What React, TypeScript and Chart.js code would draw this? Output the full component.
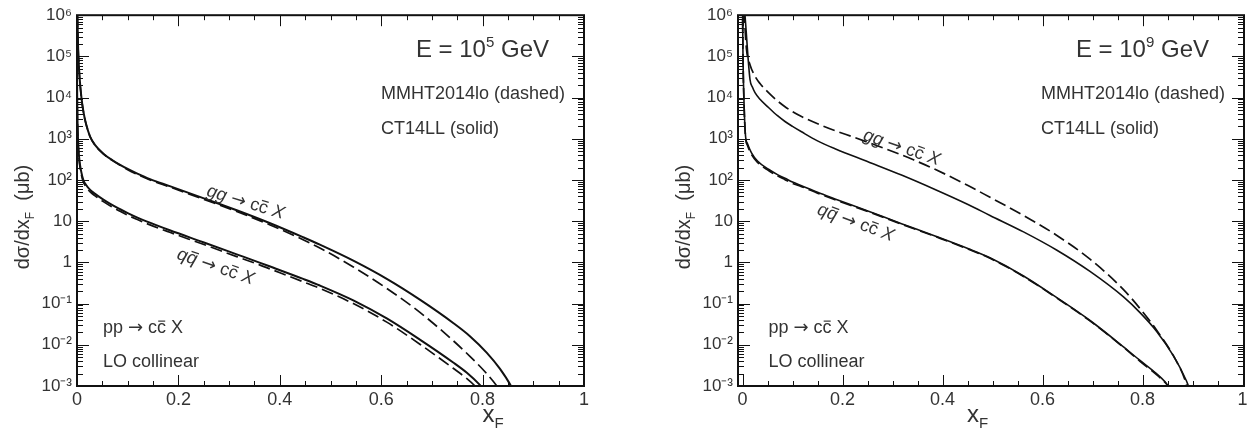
import React, { useEffect, useRef } from 'react';
import { Chart, registerables } from 'chart.js';
Chart.register(...registerables);

const FONT = "'Liberation Sans', Arimo, Arial, Helvetica, sans-serif";
const ARROW_FONT = "'DejaVu Sans', 'Liberation Sans', sans-serif";
const TEXT = '#333';
const INK = '#111';

// ---------- tick labels ----------
const xTickValues = [0, 0.2, 0.4, 0.6, 0.8, 1];
const xTickLabels = ['0', '0.2', '0.4', '0.6', '0.8', '1'];
const yTickValues = [1e6, 1e5, 1e4, 1e3, 1e2, 10, 1, 0.1, 0.01, 0.001];
const yTickLabels = ['10⁶', '10⁵', '10⁴', '10³', '10²', '10', '1', '10⁻¹', '10⁻²', '10⁻³'];

// ---------- E = 10^5 GeV ----------
const ggSolidX_E5 = [0, 0.001, 0.002, 0.003, 0.005, 0.009, 0.013, 0.018, 0.026, 0.035, 0.052, 0.07, 0.085, 0.1, 0.118, 0.144, 0.183, 0.249, 0.315, 0.381, 0.446, 0.479, 0.545, 0.611, 0.677, 0.742, 0.775, 0.808, 0.834, 0.857, 0.862];
const ggSolidY_E5 = [2.5e6, 7.9e5, 2e5, 9.3e4, 3.2e4, 9.3e3, 4.3e3, 2.24e3, 1.12e3, 725, 436, 302, 234, 186, 145, 105, 71, 36.3, 18.4, 8.9, 4.07, 2.69, 1.10, 0.398, 0.123, 0.0339, 0.0162, 0.00646, 0.00263, 0.00095, 0.0007];
const ggDashX_E5 = [0, 0.001, 0.002, 0.003, 0.005, 0.009, 0.013, 0.018, 0.026, 0.035, 0.052, 0.07, 0.085, 0.1, 0.118, 0.144, 0.183, 0.249, 0.315, 0.381, 0.446, 0.479, 0.545, 0.611, 0.677, 0.742, 0.775, 0.808, 0.828, 0.834];
const ggDashY_E5 = [2.5e6, 7.9e5, 2e5, 9.3e4, 3.2e4, 9.3e3, 4.3e3, 2.24e3, 1.12e3, 720, 430, 297, 229, 178, 138, 100, 67.6, 34.3, 17.2, 8.1, 3.55, 2.24, 0.776, 0.234, 0.0603, 0.0126, 0.00525, 0.002, 0.001, 0.00076];
const qqSolidX_E5 = [0, 0.0005, 0.001, 0.002, 0.003, 0.005, 0.008, 0.0125, 0.018, 0.026, 0.035, 0.052, 0.07, 0.085, 0.1, 0.118, 0.137, 0.183, 0.249, 0.315, 0.36, 0.381, 0.446, 0.479, 0.545, 0.611, 0.677, 0.742, 0.769, 0.795, 0.80];
const qqSolidY_E5 = [4e4, 7.9e3, 2.8e3, 1e3, 562, 282, 166, 100, 75.9, 57.5, 46.8, 33.5, 24.5, 19.5, 15.7, 12.4, 9.9, 6.03, 3.09, 1.57, 0.989, 0.794, 0.398, 0.275, 0.120, 0.0437, 0.0132, 0.00372, 0.00209, 0.00105, 0.00089];
const qqDashX_E5 = [0, 0.0005, 0.001, 0.002, 0.003, 0.005, 0.008, 0.0125, 0.018, 0.026, 0.035, 0.052, 0.07, 0.085, 0.1, 0.118, 0.137, 0.183, 0.249, 0.315, 0.36, 0.381, 0.446, 0.479, 0.545, 0.611, 0.677, 0.742, 0.769, 0.785, 0.79];
const qqDashY_E5 = [4e4, 7.1e3, 2.5e3, 890, 500, 251, 148, 89, 67.6, 51.3, 41.7, 29.9, 21.9, 17.4, 14.0, 11.1, 8.8, 5.37, 2.75, 1.38, 0.871, 0.692, 0.339, 0.234, 0.1, 0.0355, 0.0102, 0.00269, 0.00151, 0.001, 0.00085];

// ---------- E = 10^9 GeV ----------
const ggSolidX_E9 = [0.003, 0.005, 0.015, 0.02, 0.025, 0.035, 0.052, 0.07, 0.085, 0.1, 0.118, 0.15, 0.185, 0.252, 0.318, 0.385, 0.452, 0.495, 0.562, 0.628, 0.695, 0.762, 0.795, 0.828, 0.862, 0.888, 0.895];
const ggSolidY_E9 = [2e6, 1e6, 2.75e4, 1.78e4, 1.32e4, 9.1e3, 5.75e3, 3.63e3, 2.63e3, 2e3, 1.48e3, 891, 575, 275, 132, 58.9, 25.1, 13.8, 5.5, 2.0, 0.603, 0.145, 0.0603, 0.0214, 0.00537, 0.00132, 0.00079];
const ggDashX_E9 = [0.003, 0.008, 0.015, 0.025, 0.035, 0.052, 0.07, 0.085, 0.1, 0.118, 0.155, 0.185, 0.222, 0.252, 0.288, 0.318, 0.342, 0.385, 0.452, 0.495, 0.562, 0.628, 0.695, 0.762, 0.795, 0.828, 0.862, 0.885, 0.891];
const ggDashY_E9 = [1.26e6, 1.48e5, 6.3e4, 3.3e4, 2.19e4, 1.32e4, 8.3e3, 6.0e3, 4.57e3, 3.47e3, 2.19e3, 1.58e3, 1.1e3, 813, 562, 407, 309, 182, 72.4, 38, 13.8, 4.57, 1.2, 0.219, 0.0759, 0.0229, 0.00537, 0.00141, 0.00079];
const qqSolidX_E9 = [0, 0.001, 0.003, 0.006, 0.01, 0.018, 0.03, 0.052, 0.07, 0.085, 0.1, 0.118, 0.15, 0.185, 0.252, 0.318, 0.385, 0.452, 0.495, 0.562, 0.628, 0.695, 0.762, 0.795, 0.828, 0.845, 0.852];
const qqSolidY_E9 = [2e6, 1e5, 7.9e3, 1.2e3, 759, 457, 288, 182, 135, 110, 89, 72.4, 50.1, 34.7, 17.4, 8.7, 4.37, 2.14, 1.29, 0.468, 0.141, 0.0389, 0.00891, 0.00417, 0.002, 0.00126, 0.00095];
const qqDashX_E9 = [0, 0.001, 0.003, 0.006, 0.01, 0.018, 0.03, 0.052, 0.07, 0.085, 0.1, 0.118, 0.15, 0.185, 0.252, 0.318, 0.385, 0.452, 0.495, 0.562, 0.628, 0.695, 0.762, 0.795, 0.828, 0.848, 0.855];
const qqDashY_E9 = [2e6, 1e5, 7.6e3, 1.1e3, 692, 417, 269, 170, 126, 102, 83, 69.2, 47.9, 33.1, 17, 8.5, 4.27, 2.09, 1.26, 0.457, 0.138, 0.038, 0.00871, 0.00398, 0.0019, 0.00112, 0.00089];

type Seg = { t: string; it?: boolean; bar?: boolean; sup?: boolean; sub?: boolean; arrow?: boolean };

const fontFor = (s: Seg, size: number) =>
  `${s.it ? 'italic ' : ''}${s.sup || s.sub ? Math.round(size * 0.62) : size}px ${s.arrow ? ARROW_FONT : FONT}`;

function drawRich(ctx: CanvasRenderingContext2D, segs: Seg[], x: number, y: number, size: number, align: 'left' | 'right' | 'center') {
  const widths = segs.map((s) => {
    ctx.font = fontFor(s, size);
    return ctx.measureText(s.t).width;
  });
  const total = widths.reduce((a, b) => a + b, 0);
  let cx = align === 'left' ? x : align === 'right' ? x - total : x - total / 2;
  ctx.textAlign = 'left';
  ctx.textBaseline = 'alphabetic';
  segs.forEach((s, i) => {
    ctx.font = fontFor(s, size);
    const dy = s.sup ? -size * 0.4 : s.sub ? size * 0.25 : 0;
    ctx.fillText(s.t, cx, y + dy);
    if (s.bar) {
      const w = widths[i];
      ctx.beginPath();
      ctx.moveTo(cx + w * 0.12 + (s.it ? size * 0.06 : 0), y - size * 0.66);
      ctx.lineTo(cx + w * 0.9 + (s.it ? size * 0.06 : 0), y - size * 0.66);
      ctx.lineWidth = Math.max(1, size * 0.065);
      ctx.strokeStyle = TEXT;
      ctx.stroke();
    }
    cx += widths[i];
  });
}

const ARROW: Seg = { t: '→', arrow: true };
const SP: Seg = { t: ' ' };
const ggLabelSegs: Seg[] = [{ t: 'gg', it: true }, SP, ARROW, SP, { t: 'c' }, { t: 'c', bar: true }, { t: ' X', it: true }];
const qqLabelSegs: Seg[] = [{ t: 'q', it: true }, { t: 'q', it: true, bar: true }, SP, ARROW, SP, { t: 'c' }, { t: 'c', bar: true }, { t: ' X', it: true }];
const ppSegs: Seg[] = [{ t: 'pp ' }, ARROW, { t: ' c' }, { t: 'c', bar: true }, { t: ' X' }];

type Panel = {
  exp: string;
  left: number;
  width: number;
  yAxisW: number;
  padRight: number;
  xMin: number;
  xMax: number;
  lw: number;
  series: { xs: number[]; ys: number[]; dashed: boolean }[];
  gg: { x: number; y: number; angle: number };
  qq: { x: number; y: number; angle: number };
  xTitleX: number;
};

const panels: Panel[] = [
  {
    exp: '5', left: 0, width: 627, yAxisW: 77, padRight: 43, xMin: 0, xMax: 1, lw: 2,
    series: [
      { xs: ggSolidX_E5, ys: ggSolidY_E5, dashed: false },
      { xs: ggDashX_E5, ys: ggDashY_E5, dashed: true },
      { xs: qqSolidX_E5, ys: qqSolidY_E5, dashed: false },
      { xs: qqDashX_E5, ys: qqDashY_E5, dashed: true },
    ],
    gg: { x: 0.333, y: 30, angle: 17 },
    qq: { x: 0.274, y: 0.82, angle: 19 },
    xTitleX: 0.80,
  },
  {
    exp: '9', left: 627, width: 628, yAxisW: 111, padRight: 11, xMin: -0.009, xMax: 1.003, lw: 1.6,
    series: [
      { xs: ggSolidX_E9, ys: ggSolidY_E9, dashed: false },
      { xs: ggDashX_E9, ys: ggDashY_E9, dashed: true },
      { xs: qqSolidX_E9, ys: qqSolidY_E9, dashed: false },
      { xs: qqDashX_E9, ys: qqDashY_E9, dashed: true },
    ],
    gg: { x: 0.319, y: 640, angle: 19 },
    qq: { x: 0.227, y: 9.6, angle: 20 },
    xTitleX: 0.449,
  },
];

function makePlugin(p: Panel) {
  return {
    id: 'frameAndText',
    afterDraw(chart: any) {
      const ctx: CanvasRenderingContext2D = chart.ctx;
      const a = chart.chartArea;
      const xs = chart.scales.x;
      const ys = chart.scales.y;
      ctx.save();
      // inward tick marks
      ctx.strokeStyle = INK;
      ctx.lineWidth = 1;
      ctx.beginPath();
      for (let d = -3; d <= 5; d++) {
        for (let m = 1; m <= 9; m++) {
          const v = m * Math.pow(10, d);
          const py = Math.round(ys.getPixelForValue(v)) + 0.5;
          const len = m === 1 ? 12 : 6;
          ctx.moveTo(a.left, py);
          ctx.lineTo(a.left + len, py);
          ctx.moveTo(a.right, py);
          ctx.lineTo(a.right - len, py);
        }
      }
      for (let i = 0; i <= 20; i++) {
        const v = i * 0.05;
        const px = Math.round(xs.getPixelForValue(v)) + 0.5;
        const len = i % 4 === 0 ? 11 : 5;
        ctx.moveTo(px, a.bottom);
        ctx.lineTo(px, a.bottom - len);
        ctx.moveTo(px, a.top);
        ctx.lineTo(px, a.top + len);
      }
      ctx.stroke();
      // frame
      ctx.lineWidth = 2;
      ctx.strokeRect(a.left, a.top, a.right - a.left, a.bottom - a.top);

      ctx.fillStyle = TEXT;
      drawRich(ctx, [{ t: 'E = 10' }, { t: p.exp, sup: true }, { t: ' GeV' }], a.right - 35, 57, 24, 'right');
      drawRich(ctx, [{ t: 'MMHT2014lo (dashed)' }], a.right - 203, 99, 18, 'left');
      drawRich(ctx, [{ t: 'CT14LL (solid)' }], a.right - 203, 134, 18, 'left');
      const x0 = xs.getPixelForValue(0);
      drawRich(ctx, ppSegs, x0 + 26, 333, 18, 'left');
      drawRich(ctx, [{ t: 'LO collinear' }], x0 + 26, 367, 18, 'left');

      const rot = (segs: Seg[], lab: { x: number; y: number; angle: number }) => {
        ctx.save();
        ctx.translate(xs.getPixelForValue(lab.x), ys.getPixelForValue(lab.y));
        ctx.rotate((lab.angle * Math.PI) / 180);
        drawRich(ctx, segs, 0, 6, 18, 'center');
        ctx.restore();
      };
      rot(ggLabelSegs, p.gg);
      rot(qqLabelSegs, p.qq);

      ctx.save();
      ctx.translate(a.left - 55, 217);
      ctx.rotate(-Math.PI / 2);
      drawRich(ctx, [{ t: 'dσ/dx' }, { t: 'F', sub: true }, { t: '  (μb)' }], 0, 7, 20, 'center');
      ctx.restore();
      drawRich(ctx, [{ t: 'x' }, { t: 'F', sub: true }], xs.getPixelForValue(p.xTitleX), 422, 24, 'left');
      ctx.restore();
    },
  };
}

function PanelChart({ p }: { p: Panel }) {
  const ref = useRef<HTMLCanvasElement | null>(null);
  useEffect(() => {
    if (!ref.current) return;
    const chart = new Chart(ref.current, {
      type: 'line',
      data: {
        datasets: p.series.map((s) => ({
          data: s.xs.map((x, i) => ({ x, y: s.ys[i] })),
          borderColor: INK,
          borderWidth: s.dashed ? 1.7 : p.lw,
          borderDash: s.dashed ? [12, 5] : [],
          pointRadius: 0,
          fill: false,
          cubicInterpolationMode: 'monotone' as const,
        })),
      },
      options: {
        responsive: false,
        animation: false,
        events: [],
        layout: { padding: { left: 0, top: 12, right: p.padRight, bottom: 0 } },
        plugins: { legend: { display: false }, tooltip: { enabled: false } },
        scales: {
          x: {
            type: 'linear',
            min: p.xMin,
            max: p.xMax,
            grid: { display: false, drawTicks: false },
            border: { display: false },
            afterBuildTicks: (s: any) => {
              s.ticks = xTickValues.map((v) => ({ value: v }));
            },
            afterFit: (s: any) => {
              s.height = 59;
            },
            ticks: {
              autoSkip: false,
              maxRotation: 0,
              padding: 3,
              color: TEXT,
              font: { family: FONT, size: 18 },
              callback: (v: any) => {
                const i = xTickValues.findIndex((t) => Math.abs(t - Number(v)) < 1e-9);
                return i >= 0 ? xTickLabels[i] : '';
              },
            },
          },
          y: {
            type: 'logarithmic',
            min: 1e-3,
            max: 1e6,
            grid: { display: false, drawTicks: false },
            border: { display: false },
            afterBuildTicks: (s: any) => {
              s.ticks = yTickValues.map((v) => ({ value: v }));
            },
            afterFit: (s: any) => {
              s.width = p.yAxisW;
            },
            ticks: {
              autoSkip: false,
              padding: 5,
              color: TEXT,
              font: { family: FONT, size: 17 },
              callback: (v: any) => {
                const i = yTickValues.findIndex((t) => Math.abs(Math.log10(t) - Math.log10(Number(v))) < 1e-6);
                return i >= 0 ? yTickLabels[i] : '';
              },
            },
          },
        },
      } as any,
      plugins: [makePlugin(p)],
    });
    return () => chart.destroy();
  }, [p]);
  return (
    <canvas
      ref={ref}
      width={p.width}
      height={445}
      style={{ position: 'absolute', left: p.left, top: 0, width: p.width, height: 445 }}
    />
  );
}

export default function App() {
  return (
    <div style={{ position: 'fixed', left: 0, top: 0, width: 1255, height: 445, background: '#fff' }}>
      {panels.map((p, i) => (
        <PanelChart key={i} p={p} />
      ))}
    </div>
  );
}
